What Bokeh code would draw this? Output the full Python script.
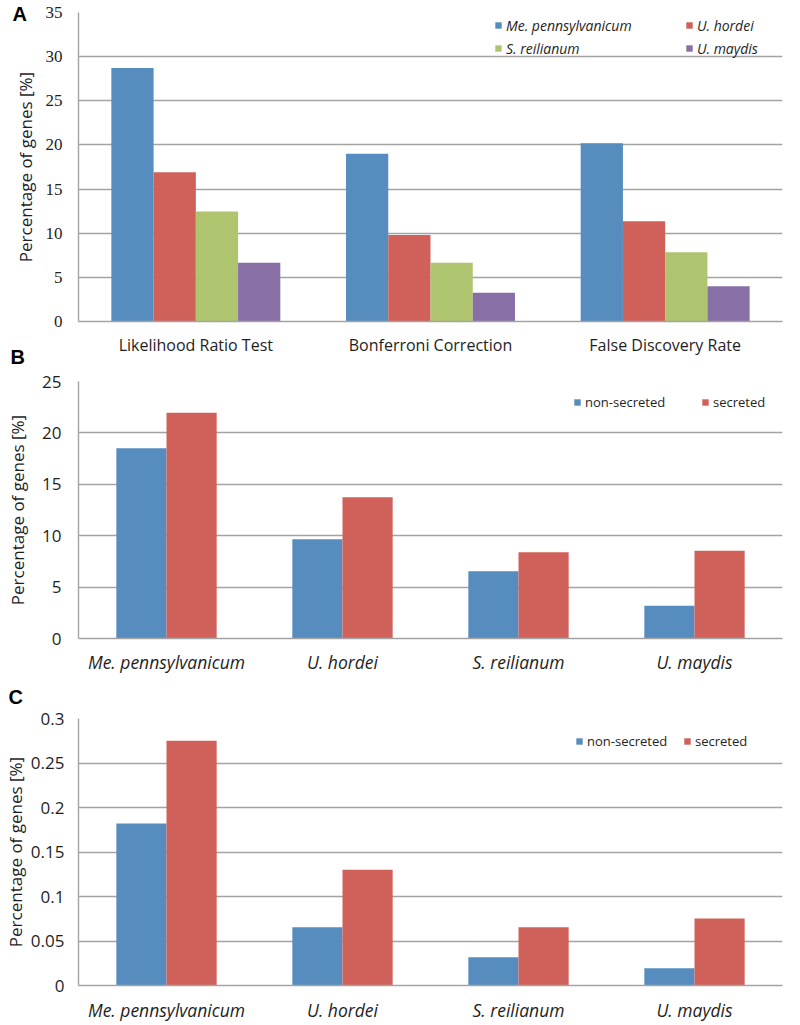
from bokeh.plotting import figure
from bokeh.layouts import column
from bokeh.models import (ColumnDataSource, FactorRange, Range1d, FixedTicker, Legend,
                          LegendItem, Title, CustomJSTickFormatter)
from bokeh.transform import dodge
from bokeh.embed import file_html
from bokeh.resources import INLINE

# ---------------- data ----------------
tests = ["Likelihood Ratio Test", "Bonferroni Correction", "False Discovery Rate"]
species = ["Me. pennsylvanicum", "U. hordei", "S. reilianum", "U. maydis"]

a_me_pennsylvanicum = [28.7, 19.0, 20.2]
a_u_hordei = [16.9, 9.8, 11.35]
a_s_reilianum = [12.45, 6.65, 7.85]
a_u_maydis = [6.65, 3.25, 4.0]

b_non_secreted = [18.5, 9.66, 6.55, 3.18]
b_secreted = [21.95, 13.75, 8.4, 8.53]

c_non_secreted = [0.182, 0.0654, 0.0318, 0.0194]
c_secreted = [0.275, 0.13, 0.0654, 0.0752]

a_ticks = [0, 5, 10, 15, 20, 25, 30, 35]
b_ticks = [0, 5, 10, 15, 20, 25]
c_ticks = [0, 0.05, 0.1, 0.15, 0.2, 0.25, 0.3]

# ---------------- style ----------------
BLUE = "#568cbe"
RED = "#d0605a"
GREEN = "#afc46f"
PURPLE = "#8870a6"
GRID = "#a3a3a3"
TXT = "#1e1e1e"
SANS = "Open Sans"


def base(height, factors, y_end, ticks, left, top, bottom, tick_font, tick_size,
         cat_style, cat_size, cat_standoff, ylab_standoff, tick_standoff):
    p = figure(width=784, height=height,
               x_range=FactorRange(*factors, range_padding=0),
               y_range=Range1d(0, y_end),
               output_backend="svg", toolbar_location=None,
               min_border_left=left, min_border_right=2,
               min_border_top=top, min_border_bottom=bottom)
    p.outline_line_color = None
    p.background_fill_color = "white"
    p.border_fill_color = None
    p.xgrid.grid_line_color = None
    p.ygrid.ticker = FixedTicker(ticks=ticks)
    p.ygrid.grid_line_color = GRID
    p.ygrid.grid_line_width = 1.4

    p.yaxis.ticker = FixedTicker(ticks=ticks)
    p.yaxis.major_tick_line_color = None
    p.yaxis.minor_tick_line_color = None
    p.yaxis.major_tick_out = 0
    p.yaxis.major_tick_in = 0
    p.yaxis.axis_line_color = GRID
    p.yaxis.axis_line_width = 1.4
    p.yaxis.major_label_text_font = tick_font
    p.yaxis.major_label_text_font_size = tick_size
    p.yaxis.major_label_text_color = TXT
    p.yaxis.major_label_standoff = tick_standoff
    p.yaxis.axis_label = "Percentage of genes [%]"
    p.yaxis.axis_label_text_font = SANS
    p.yaxis.axis_label_text_font_size = "17px"
    p.yaxis.axis_label_text_font_style = "normal"
    p.yaxis.axis_label_text_color = TXT
    p.yaxis.axis_label_standoff = ylab_standoff

    p.xaxis.major_tick_line_color = None
    p.xaxis.minor_tick_line_color = None
    p.xaxis.major_tick_out = 0
    p.xaxis.major_tick_in = 0
    p.xaxis.axis_line_color = GRID
    p.xaxis.axis_line_width = 1.4
    p.xaxis.major_label_text_font = SANS
    p.xaxis.major_label_text_font_size = cat_size
    p.xaxis.major_label_text_font_style = cat_style
    p.xaxis.major_label_text_color = TXT
    p.xaxis.major_label_standoff = cat_standoff
    return p


def panel_title(p, text, offset, standoff):
    p.add_layout(Title(text=text, align="left", vertical_align="bottom",
                       offset=offset, standoff=standoff,
                       text_font="Liberation Sans", text_font_style="bold",
                       text_font_size="20px", text_color="black"), "above")


def add_legend(p, items, x, y, label_width, italic, size):
    lg = Legend(items=items, location=(x, y), orientation="horizontal",
                padding=0, spacing=4, margin=0,
                glyph_width=8, glyph_height=8, label_standoff=4,
                label_width=label_width, label_height=20,
                label_text_font=SANS, label_text_font_size=size,
                label_text_font_style="italic" if italic else "normal",
                label_text_color=TXT,
                border_line_color=None, background_fill_alpha=0)
    p.add_layout(lg)


# ---------------- panel A ----------------
src_a = ColumnDataSource(dict(test=tests, me=a_me_pennsylvanicum, uh=a_u_hordei,
                              sr=a_s_reilianum, um=a_u_maydis))
pa = base(358, tests, 35, a_ticks, 68, 12, 37, "Liberation Serif", "17px",
          "normal", "16px", 12, 6, 16)
wa = 0.18
ra = []
for off, col, c in [(-1.5, "me", BLUE), (-0.5, "uh", RED), (0.5, "sr", GREEN), (1.5, "um", PURPLE)]:
    ra.append(pa.vbar(x=dodge("test", off * wa, range=pa.x_range), top=col, width=wa,
                      source=src_a, fill_color=c, line_color=None))
add_legend(pa, [LegendItem(label=species[0], renderers=[ra[0]]),
                LegendItem(label=species[1], renderers=[ra[1]])], 416, 286, 175, True, "14px")
add_legend(pa, [LegendItem(label=species[2], renderers=[ra[2]]),
                LegendItem(label=species[3], renderers=[ra[3]])], 416, 263, 175, True, "14px")
panel_title(pa, "A", -66, -24)

# ---------------- panel B ----------------
src_b = ColumnDataSource(dict(sp=species, ns=b_non_secreted, s=b_secreted))
pb = base(349, species, 25, b_ticks, 70, 53, 39, SANS, "17px",
          "italic", "17.5px", 11, 10, 17)
pb.margin = (-30, 0, 0, 0)
wb = 0.285
rb1 = pb.vbar(x=dodge("sp", -0.5 * wb, range=pb.x_range), top="ns", width=wb,
              source=src_b, fill_color=BLUE, line_color=None)
rb2 = pb.vbar(x=dodge("sp", 0.5 * wb, range=pb.x_range), top="s", width=wb,
              source=src_b, fill_color=RED, line_color=None)
add_legend(pb, [LegendItem(label="non-secreted", renderers=[rb1]),
                LegendItem(label="secreted", renderers=[rb2])], 495, 226, 112, False, "13px")
panel_title(pb, "B", -68, 28)

# ---------------- panel C ----------------
src_c = ColumnDataSource(dict(sp=species, ns=c_non_secreted, s=c_secreted))
pc = base(353, species, 0.3, c_ticks, 72, 46, 40, SANS, "17px",
          "italic", "17.5px", 12, 1, 14)
pc.margin = (-5, 0, 0, 0)
pc.yaxis.formatter = CustomJSTickFormatter(code="return String(Math.round(tick * 100) / 100);")
rc1 = pc.vbar(x=dodge("sp", -0.5 * wb, range=pc.x_range), top="ns", width=wb,
              source=src_c, fill_color=BLUE, line_color=None)
rc2 = pc.vbar(x=dodge("sp", 0.5 * wb, range=pc.x_range), top="s", width=wb,
              source=src_c, fill_color=RED, line_color=None)
add_legend(pc, [LegendItem(label="non-secreted", renderers=[rc1]),
                LegendItem(label="secreted", renderers=[rc2])], 497, 234, 92, False, "13px")
panel_title(pc, "C", -70, 21)

layout = column(pa, pb, pc, spacing=0)
open("out.html", "w").write(file_html(layout, INLINE))
